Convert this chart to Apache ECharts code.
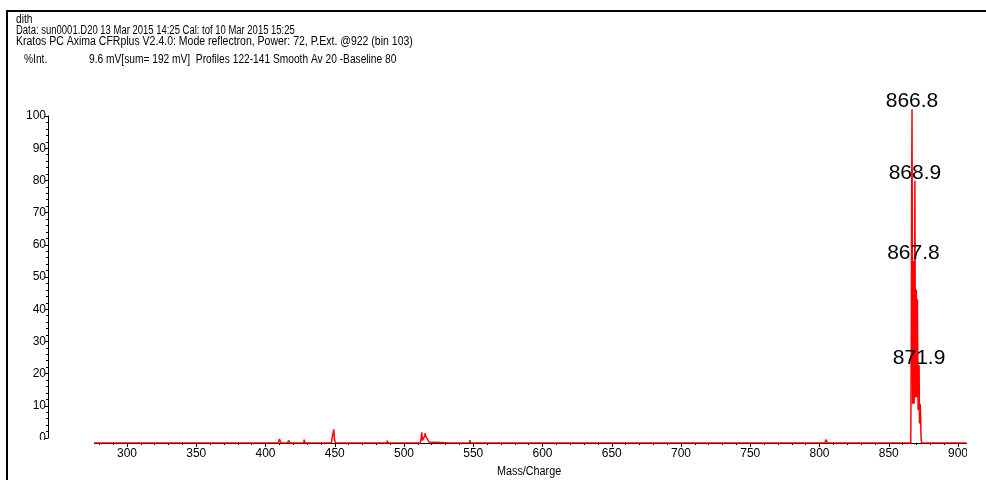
<!DOCTYPE html>
<html lang="en" style="height: 100%">
<head>
    <meta http-equiv="Content-Type" content="text/html; charset=utf-8"/>
    <title>dith</title>
    <script type="text/javascript" src="https://cdn.jsdelivr.net/npm/echarts@6/dist/echarts.min.js"></script>
</head>
<body style="height: 100%; margin: 0; background: #fff">
<div id="container" style="width: 986px; height: 480px"></div>
<script type="text/javascript">
    // spectrum (mass/charge, %int)
    var mass = [
        276, 312.6, 313, 313.4, 318.1, 318.5, 318.9,
        409.5, 410, 410.6, 411, 411.4, 416.1, 416.6, 417.3, 417.8, 427.6, 428, 428.4,
        445.6, 446, 446.4, 447.6, 448.1, 448.8, 449.3, 449.8, 450.2, 450.6,
        487.6, 488, 488.4,
        511.8, 512.3, 512.8, 513.3, 513.9, 514.5, 515, 515.3, 515.7, 516, 516.5, 516.8, 517.2, 517.5, 518, 518.4,
        533.2, 533.6, 534, 547.2, 547.6, 548,
        602.6, 603, 603.4, 637.6, 638, 638.4, 643.6, 644, 644.4, 654.6, 655, 655.4,
        679.6, 680, 680.4, 708.6, 709, 709.4,
        804, 804.5, 805, 805.5, 806, 838.6, 839, 839.4,
        865.9, 866.3, 866.5, 866.8, 867.1, 867.3, 867.5, 867.8, 868.1, 868.3, 868.6, 868.9, 869.2, 869.4,
        869.7, 869.9, 870.2, 870.4, 870.7, 870.9, 871.2, 871.4, 871.7, 871.9, 872.2, 872.4, 872.7, 872.9,
        873.3, 873.7, 878.6, 879, 879.4, 906
    ];
    var intensity = [
        0, 0, 0.6, 0, 0, 0.6, 0,
        0, 1.2, 0.6, 0.9, 0, 0, 0.8, 0.7, 0, 0, 1.0, 0,
        0, 0.5, 0, 0, 1.6, 1.2, 4.2, 1.0, 0.4, 0,
        0, 0.7, 0,
        0, 1.0, 3.3, 0.8, 0.3, 1.2, 2.2, 3.0, 2.0, 2.6, 1.5, 2.0, 1.0, 1.0, 0.3, 0,
        0, 0.6, 0, 0, 0.9, 0,
        0, 0.5, 0, 0, 0.5, 0, 0, 0.4, 0, 0, 0.4, 0,
        0, 0.5, 0, 0, 0.5, 0,
        0, 1.0, 1.5, 0.6, 0, 0, 0.5, 0,
        0, 35, 70, 102.2, 40, 12, 20, 55.8, 16, 12, 35, 80.3, 20, 14,
        30, 47, 14, 18, 44, 30, 10, 14, 18, 23.8, 6, 9, 12, 10,
        2, 0, 0, 0.5, 0, 0
    ];
    var peakMass = [866.8, 868.9, 867.8, 871.9];
    var peakInt = [102.2, 80.3, 55.8, 23.8];

    var xTicks = [250, 950, 50];   // min, max, interval (axis drawn wider, ends covered)
    var yTicks = [0, 100, 10];

    var headerLines = [
        'dith',
        'Data: sun0001.D20 13 Mar 2015 14:25 Cal: tof 10 Mar 2015 15:25',
        'Kratos PC Axima CFRplus V2.4.0: Mode reflectron, Power: 72, P.Ext. @922 (bin 103)'
    ];
    var headerSquash = [0.85, 0.79, 0.875];
    var infoLine = '9.6 mV[sum= 192 mV]  Profiles 122-141 Smooth Av 20 -Baseline 80';

    var FONT = "'Liberation Sans', Arial, sans-serif";

    var line = [];
    for (var i = 0; i < mass.length; i++) {
        line.push([mass[i], intensity[i]]);
    }
    var marks = [];
    for (var j = 0; j < peakMass.length; j++) {
        marks.push({coord: [peakMass[j], peakInt[j]], value: peakMass[j].toFixed(1)});
    }

    var graphics = [
        {
            type: 'rect', z: 200, silent: true,
            shape: {x: 7, y: 11, width: 1200, height: 700},
            style: {fill: 'none', stroke: '#000', lineWidth: 2}
        },
        // hide the axis overhang outside 276..906
        {type: 'rect', z: 150, shape: {x: 9, y: 440, width: 85, height: 30}, style: {fill: '#fff'}},
        {type: 'rect', z: 150, shape: {x: 967, y: 440, width: 30, height: 30}, style: {fill: '#fff'}},
        {
            type: 'text', x: 24, y: 54, z: 160, scaleX: 0.85,
            style: {text: '%Int.', font: '12px ' + FONT, fill: '#000'}
        },
        {
            type: 'text', x: 89, y: 54, z: 160, scaleX: 0.85,
            style: {text: infoLine, font: '12px ' + FONT, fill: '#000'}
        },
        {
            type: 'text', x: 497, y: 466, z: 160, scaleX: 0.9,
            style: {text: 'Mass/Charge', font: '12px ' + FONT, fill: '#000'}
        }
    ];
    for (var k = 0; k < headerLines.length; k++) {
        graphics.push({
            type: 'text', x: 16, y: 14 + k * 11, z: 160, scaleX: headerSquash[k],
            style: {text: headerLines[k], font: '12px ' + FONT, fill: '#000'}
        });
    }

    var myChart = echarts.init(document.getElementById('container'), null, {renderer: 'canvas'});
    var option = {
        animation: false,
        backgroundColor: '#fff',
        graphic: graphics,
        grid: [
            {left: 57.75, top: 100, width: 969.5, height: 343, outerBoundsMode: 'none', containLabel: false},
            {left: 48, top: 116, width: 10, height: 322, outerBoundsMode: 'none', containLabel: false}
        ],
        xAxis: [
            {
                type: 'value', gridIndex: 0,
                min: xTicks[0], max: xTicks[1], interval: xTicks[2],
                axisLine: {lineStyle: {color: '#000', width: 1}},
                axisTick: {length: 4, lineStyle: {color: '#000'}},
                minorTick: {show: true, splitNumber: 5, length: 2, lineStyle: {color: '#000'}},
                splitLine: {show: false},
                axisLabel: {color: '#000', fontSize: 12, fontFamily: FONT, margin: 5}
            },
            {type: 'value', gridIndex: 1, show: false, min: 0, max: 1}
        ],
        yAxis: [
            {type: 'value', gridIndex: 0, show: false, min: 0, max: 105},
            {
                type: 'value', gridIndex: 1,
                min: yTicks[0], max: yTicks[1], interval: yTicks[2],
                axisLine: {show: true, lineStyle: {color: '#000', width: 1}},
                axisTick: {show: true, length: 3, lineStyle: {color: '#000'}},
                minorTick: {show: true, splitNumber: 5, length: 2, lineStyle: {color: '#000'}},
                splitLine: {show: false},
                axisLabel: {color: '#000', fontSize: 12, fontFamily: FONT, margin: 2}
            }
        ],
        series: [
            {
                type: 'line', xAxisIndex: 0, yAxisIndex: 0,
                data: line, symbol: 'none',
                lineStyle: {color: '#ff0000', width: 1.5},
                markPoint: {
                    symbol: 'circle', symbolSize: 0,
                    label: {
                        show: true, position: 'top', distance: -3,
                        color: '#000', fontSize: 21, fontFamily: FONT,
                        formatter: function (p) { return p.value; }
                    },
                    data: marks
                }
            },
            {type: 'line', xAxisIndex: 1, yAxisIndex: 1, data: [], symbol: 'none'}
        ]
    };
    myChart.setOption(option);
</script>
</body>
</html>
